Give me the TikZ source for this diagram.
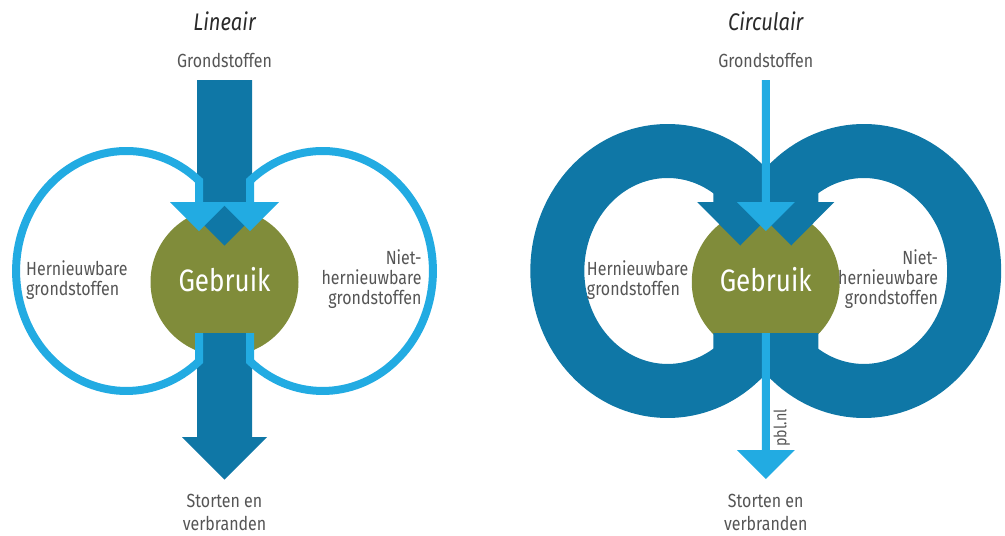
\documentclass[tikz,border=0pt]{standalone}
\usepackage{fontspec}
\setmainfont{Fira Sans}[FakeStretch=0.84]
\definecolor{darkb}{HTML}{0F77A6}
\definecolor{lightb}{HTML}{22ABE2}
\definecolor{usegreen}{HTML}{808C3A}
\definecolor{txtgray}{HTML}{555555}
\definecolor{titlegray}{HTML}{2A2A2A}
\tikzset{
  lbl/.style={text=txtgray, inner sep=0pt, font=\fontsize{19}{20}\selectfont},
  ttl/.style={text=titlegray, inner sep=0pt, anchor=base, font=\itshape\fontsize{24}{26}\selectfont},
  usenode/.style={circle, fill=usegreen, minimum size=148pt, inner sep=0pt},
  usetxt/.style={text=white, inner sep=0pt, anchor=base, font=\fontsize{31}{33}\selectfont},
  thinloop/.style={draw=lightb, line width=8pt, miter limit=10},
  thickloop/.style={draw=darkb, line width=54pt, miter limit=10},
}
\begin{document}
\begin{tikzpicture}[x=1pt,y=1pt]
\useasboundingbox (0,0) rectangle (1005,-536);
% ================= LINEAIR =================
\begin{scope}[shift={(224.5,0)}]
  \node[ttl] (tL) at (0,-30) {Lineair};
  \node[lbl, anchor=base] (gL) at (0,-67.5) {Grondstoffen};
  \node[usenode] (uL) at (0,-282) {};
  % main dark arrow (top)
  \fill[darkb] (-27.5,-80) -- (27.5,-80) -- (27.5,-202) -- (43.5,-202) -- (0,-245.5)
     -- (-43.5,-202) -- (-27.5,-202) -- cycle;
  % main dark arrow (bottom)
  \fill[darkb] (-27.5,-333) -- (27.5,-333) -- (27.5,-437) -- (42.5,-437) -- (0,-479.5)
     -- (-42.5,-437) -- (-27.5,-437) -- cycle;
  % light loops
  \draw[thinloop] (-25.5,-202) -- (-25.5,-180.7)
     arc[start angle=48.8, end angle=311.2, x radius=110.3, y radius=120] -- (-25.5,-333);
  \draw[thinloop] (25.5,-202) -- (25.5,-180.7)
     arc[start angle=131.2, end angle=-131.2, x radius=110.3, y radius=120] -- (25.5,-333);
  % light heads
  \fill[lightb] (-54.5,-202) -- (3.5,-202) -- (-25.5,-231) -- cycle;
  \fill[lightb] (-3.5,-202) -- (54.5,-202) -- (25.5,-231) -- cycle;
  \node[usetxt] at (0,-291) {Gebruik};
  \node[lbl, anchor=base west, align=left] (hL) at (-198.5,-295) {Hernieuwbare\\grondstoffen};
  \node[lbl, anchor=base east, align=right] (nL) at (197.2,-304.5) {Niet-\\hernieuwbare\\grondstoffen};
  \node[lbl, anchor=base, align=center, font=\fontsize{19}{23}\selectfont] (sL) at (0,-530) {Storten en\\verbranden};
\end{scope}
% ================= CIRCULAIR =================
\begin{scope}[shift={(765.75,0)}]
  \node[ttl] (tC) at (0,-30) {Circulair};
  \node[lbl, anchor=base] (gC) at (0,-67.5) {Grondstoffen};
  \node[usenode] (uC) at (0,-282) {};
  % dark rings
  \draw[thickloop] (-25.5,-202) -- (-25.5,-180.7)
     arc[start angle=48.8, end angle=311.2, x radius=110.3, y radius=120] -- (-25.5,-333);
  \draw[thickloop] (25.5,-202) -- (25.5,-180.7)
     arc[start angle=131.2, end angle=-131.2, x radius=110.3, y radius=120] -- (25.5,-333);
  % dark heads
  \fill[darkb] (-68.5,-202) -- (17.5,-202) -- (-25.5,-245.5) -- cycle;
  \fill[darkb] (-17.5,-202) -- (68.5,-202) -- (25.5,-245.5) -- cycle;
  % light main arrow (top)
  \fill[lightb] (-4,-80) -- (4,-80) -- (4,-202) -- (29,-202) -- (0,-231)
     -- (-29,-202) -- (-4,-202) -- cycle;
  % light main arrow (bottom)
  \fill[lightb] (-4,-333) -- (4,-333) -- (4,-450) -- (29,-450) -- (0,-479)
     -- (-29,-450) -- (-4,-450) -- cycle;
  \node[usetxt] at (0,-291) {Gebruik};
  \node[lbl, anchor=base west, align=left] (hC) at (-179,-295) {Hernieuwbare\\grondstoffen};
  \node[lbl, anchor=base east, align=right] (nC) at (172.5,-304.5) {Niet-\\hernieuwbare\\grondstoffen};
  \node[lbl, anchor=base, align=center, font=\fontsize{19}{23}\selectfont] (sC) at (0,-530) {Storten en\\verbranden};
  \node[lbl, rotate=90, font=\fontsize{17}{19}\selectfont] (pbl) at (16,-428) {pbl.nl};
\end{scope}
\end{tikzpicture}
\end{document}
